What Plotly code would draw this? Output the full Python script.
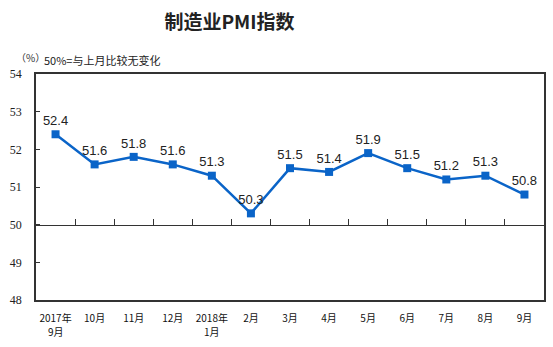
import plotly.graph_objects as go

months_line1 = ["2017年", "10月", "11月", "12月", "2018年", "2月", "3月",
                "4月", "5月", "6月", "7月", "8月", "9月"]
months_line2 = ["9月", "", "", "", "1月", "", "", "", "", "", "", "", ""]
pmi = [52.4, 51.6, 51.8, 51.6, 51.3, 50.3, 51.5, 51.4, 51.9, 51.5, 51.2, 51.3, 50.8]
y_ticks = [48, 49, 50, 51, 52, 53, 54]

xs = list(range(len(months_line1)))
boundaries = [i + 0.5 for i in range(len(xs) - 1)]

fig = go.Figure()
fig.add_trace(go.Scatter(
    x=xs, y=pmi, mode="lines+markers+text",
    line=dict(color="#0A64C8", width=2.5),
    marker=dict(symbol="square", size=8, color="#0A64C8"),
    text=[f"{v:.1f}" for v in pmi], textposition="top center",
    textfont=dict(family="Liberation Sans, Arial", size=13, color="#222"),
    cliponaxis=False, showlegend=False,
))
fig.add_trace(go.Scatter(x=[xs[0]], y=[50], xaxis="x2", mode="markers",
                         marker=dict(opacity=0), showlegend=False, hoverinfo="skip"))

plot_w = 553 - 36 - 7
plot_h = 347 - 74 - 47

fig.update_layout(
    width=553, height=347,
    margin=dict(l=36, r=7, t=74, b=47),
    paper_bgcolor="white", plot_bgcolor="white",
    title=dict(text="<b>制造业PMI指数</b>", x=0.415, xanchor="center", y=0.935, yanchor="middle",
               font=dict(family="Noto Sans CJK SC", size=19, color="#222")),
    xaxis=dict(range=[-0.5, len(xs) - 0.5], tickmode="array", tickvals=xs, ticktext=months_line1,
               showgrid=False, zeroline=False, showline=True, linecolor="#333", linewidth=1.5,
               mirror=True, ticks="", ticklabelstandoff=8,
               tickfont=dict(family="Noto Sans CJK SC", size=10, color="#111")),
    xaxis2=dict(range=[-0.5, len(xs) - 0.5], overlaying="x", anchor="free", position=1/3,
                side="top", tickmode="array", tickvals=boundaries, ticks="outside", ticklen=6,
                tickcolor="#333", tickwidth=1, showticklabels=False, showline=True,
                linecolor="#333", linewidth=1.2, showgrid=False, zeroline=False),
    yaxis=dict(range=[48, 54], tickmode="array", tickvals=y_ticks, ticks="inside", ticklen=4,
               tickcolor="#333", showgrid=False, zeroline=False, showline=True, linecolor="#333",
               linewidth=1.5, mirror=True, ticklabelstandoff=10,
               tickfont=dict(family="Liberation Serif", size=12, color="#222")),
    font=dict(family="Noto Sans CJK SC"),
)
for x, t in zip(xs, months_line2):
    if t:
        fig.add_annotation(text=t, x=x, xref="x", y=(347 - 47 - 331) / plot_h, yref="paper",
                           showarrow=False, xanchor="center", yanchor="middle",
                           font=dict(family="Noto Sans CJK SC", size=10, color="#111"))

fig.add_annotation(text="（%）", x=(14 - 36) / plot_w, y=(347 - 47 - 57) / plot_h,
                   xref="paper", yref="paper", showarrow=False, xanchor="left", yanchor="middle",
                   font=dict(family="Noto Sans CJK SC", size=10, color="#333"))
fig.add_annotation(text="50%=与上月比较无变化", x=(42 - 36) / plot_w, y=(347 - 47 - 60) / plot_h,
                   xref="paper", yref="paper", showarrow=False, xanchor="left", yanchor="middle",
                   font=dict(family="Noto Sans CJK SC", size=11, color="#222"))

fig.write_html("out.html")
